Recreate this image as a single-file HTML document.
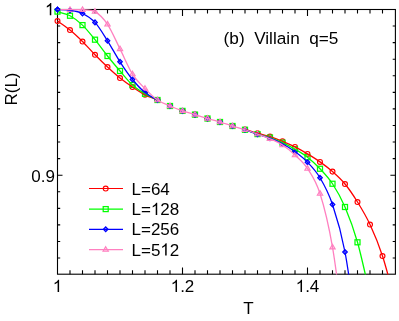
<!DOCTYPE html><html><head><meta charset="utf-8"><style>html,body{margin:0;padding:0;background:#fff}body{width:399px;height:321px;overflow:hidden;font-family:"Liberation Sans",sans-serif}</style></head><body>
<svg width="399" height="321" viewBox="0 0 399 321" style="display:block;will-change:transform">
<defs><clipPath id="c"><rect x="0" y="0" width="399" height="274.5"/></clipPath></defs>
<rect width="399" height="321" fill="#fff"/>
<g stroke="#000" stroke-width="1.1" fill="none">
<rect x="57.5" y="9.5" width="337.9" height="264.7"/>
<path d="M70.00 9.50 v3.9 M70.00 274.20 v-3.9 M82.50 9.50 v3.9 M82.50 274.20 v-3.9 M95.00 9.50 v3.9 M95.00 274.20 v-3.9 M107.50 9.50 v3.9 M107.50 274.20 v-3.9 M120.00 9.50 v3.9 M120.00 274.20 v-3.9 M132.50 9.50 v3.9 M132.50 274.20 v-3.9 M145.00 9.50 v3.9 M145.00 274.20 v-3.9 M157.50 9.50 v3.9 M157.50 274.20 v-3.9 M170.00 9.50 v3.9 M170.00 274.20 v-3.9 M182.50 9.50 v6.6 M182.50 274.20 v-6.6 M195.00 9.50 v3.9 M195.00 274.20 v-3.9 M207.50 9.50 v3.9 M207.50 274.20 v-3.9 M220.00 9.50 v3.9 M220.00 274.20 v-3.9 M232.50 9.50 v3.9 M232.50 274.20 v-3.9 M245.00 9.50 v3.9 M245.00 274.20 v-3.9 M257.50 9.50 v3.9 M257.50 274.20 v-3.9 M270.00 9.50 v3.9 M270.00 274.20 v-3.9 M282.50 9.50 v3.9 M282.50 274.20 v-3.9 M295.00 9.50 v3.9 M295.00 274.20 v-3.9 M307.50 9.50 v6.6 M307.50 274.20 v-6.6 M320.00 9.50 v3.9 M320.00 274.20 v-3.9 M332.50 9.50 v3.9 M332.50 274.20 v-3.9 M345.00 9.50 v3.9 M345.00 274.20 v-3.9 M357.50 9.50 v3.9 M357.50 274.20 v-3.9 M370.00 9.50 v3.9 M370.00 274.20 v-3.9 M382.50 9.50 v3.9 M382.50 274.20 v-3.9 M57.50 26.07 h2.7 M395.40 26.07 h-2.7 M57.50 42.64 h2.7 M395.40 42.64 h-2.7 M57.50 59.21 h2.7 M395.40 59.21 h-2.7 M57.50 75.78 h2.7 M395.40 75.78 h-2.7 M57.50 92.35 h2.7 M395.40 92.35 h-2.7 M57.50 108.92 h2.7 M395.40 108.92 h-2.7 M57.50 125.49 h2.7 M395.40 125.49 h-2.7 M57.50 142.06 h2.7 M395.40 142.06 h-2.7 M57.50 158.63 h2.7 M395.40 158.63 h-2.7 M57.50 175.20 h5 M395.40 175.20 h-5 M57.50 191.77 h2.7 M395.40 191.77 h-2.7 M57.50 208.34 h2.7 M395.40 208.34 h-2.7 M57.50 224.91 h2.7 M395.40 224.91 h-2.7 M57.50 241.48 h2.7 M395.40 241.48 h-2.7 M57.50 258.05 h2.7 M395.40 258.05 h-2.7"/>
</g>
<g clip-path="url(#c)">
<circle cx="57.50" cy="21.00" r="2.45" fill="none" stroke="#ff0000" stroke-width="1.15"/>
<circle cx="70.00" cy="30.00" r="2.45" fill="none" stroke="#ff0000" stroke-width="1.15"/>
<circle cx="82.50" cy="41.50" r="2.45" fill="none" stroke="#ff0000" stroke-width="1.15"/>
<circle cx="95.00" cy="54.80" r="2.45" fill="none" stroke="#ff0000" stroke-width="1.15"/>
<circle cx="107.50" cy="67.00" r="2.45" fill="none" stroke="#ff0000" stroke-width="1.15"/>
<circle cx="120.00" cy="78.00" r="2.45" fill="none" stroke="#ff0000" stroke-width="1.15"/>
<circle cx="132.50" cy="87.00" r="2.45" fill="none" stroke="#ff0000" stroke-width="1.15"/>
<circle cx="145.00" cy="94.80" r="2.45" fill="none" stroke="#ff0000" stroke-width="1.15"/>
<circle cx="157.50" cy="100.00" r="2.45" fill="none" stroke="#ff0000" stroke-width="1.15"/>
<circle cx="170.00" cy="106.00" r="2.45" fill="none" stroke="#ff0000" stroke-width="1.15"/>
<circle cx="182.50" cy="110.90" r="2.45" fill="none" stroke="#ff0000" stroke-width="1.15"/>
<circle cx="195.00" cy="114.60" r="2.45" fill="none" stroke="#ff0000" stroke-width="1.15"/>
<circle cx="207.50" cy="118.50" r="2.45" fill="none" stroke="#ff0000" stroke-width="1.15"/>
<circle cx="220.00" cy="122.00" r="2.45" fill="none" stroke="#ff0000" stroke-width="1.15"/>
<circle cx="232.50" cy="126.00" r="2.45" fill="none" stroke="#ff0000" stroke-width="1.15"/>
<circle cx="245.00" cy="129.40" r="2.45" fill="none" stroke="#ff0000" stroke-width="1.15"/>
<circle cx="257.50" cy="133.20" r="2.45" fill="none" stroke="#ff0000" stroke-width="1.15"/>
<circle cx="270.00" cy="136.60" r="2.45" fill="none" stroke="#ff0000" stroke-width="1.15"/>
<circle cx="282.50" cy="141.30" r="2.45" fill="none" stroke="#ff0000" stroke-width="1.15"/>
<circle cx="295.00" cy="146.90" r="2.45" fill="none" stroke="#ff0000" stroke-width="1.15"/>
<circle cx="307.50" cy="153.90" r="2.45" fill="none" stroke="#ff0000" stroke-width="1.15"/>
<circle cx="320.00" cy="161.90" r="2.45" fill="none" stroke="#ff0000" stroke-width="1.15"/>
<circle cx="332.50" cy="171.60" r="2.45" fill="none" stroke="#ff0000" stroke-width="1.15"/>
<circle cx="345.00" cy="184.00" r="2.45" fill="none" stroke="#ff0000" stroke-width="1.15"/>
<circle cx="357.50" cy="202.00" r="2.45" fill="none" stroke="#ff0000" stroke-width="1.15"/>
<circle cx="370.00" cy="224.50" r="2.45" fill="none" stroke="#ff0000" stroke-width="1.15"/>
<circle cx="382.50" cy="256.00" r="2.45" fill="none" stroke="#ff0000" stroke-width="1.15"/>
<circle cx="395.00" cy="301.00" r="2.45" fill="none" stroke="#ff0000" stroke-width="1.15"/>
<rect x="55.00" y="9.10" width="5.00" height="5.00" fill="none" stroke="#00ff00" stroke-width="1.25"/>
<rect x="67.50" y="13.25" width="5.00" height="5.00" fill="none" stroke="#00ff00" stroke-width="1.25"/>
<rect x="80.00" y="22.60" width="5.00" height="5.00" fill="none" stroke="#00ff00" stroke-width="1.25"/>
<rect x="92.50" y="37.20" width="5.00" height="5.00" fill="none" stroke="#00ff00" stroke-width="1.25"/>
<rect x="105.00" y="53.50" width="5.00" height="5.00" fill="none" stroke="#00ff00" stroke-width="1.25"/>
<rect x="117.50" y="68.50" width="5.00" height="5.00" fill="none" stroke="#00ff00" stroke-width="1.25"/>
<rect x="130.00" y="82.50" width="5.00" height="5.00" fill="none" stroke="#00ff00" stroke-width="1.25"/>
<rect x="142.50" y="91.30" width="5.00" height="5.00" fill="none" stroke="#00ff00" stroke-width="1.25"/>
<rect x="155.00" y="97.50" width="5.00" height="5.00" fill="none" stroke="#00ff00" stroke-width="1.25"/>
<rect x="167.50" y="103.50" width="5.00" height="5.00" fill="none" stroke="#00ff00" stroke-width="1.25"/>
<rect x="180.00" y="108.40" width="5.00" height="5.00" fill="none" stroke="#00ff00" stroke-width="1.25"/>
<rect x="192.50" y="112.10" width="5.00" height="5.00" fill="none" stroke="#00ff00" stroke-width="1.25"/>
<rect x="205.00" y="116.00" width="5.00" height="5.00" fill="none" stroke="#00ff00" stroke-width="1.25"/>
<rect x="217.50" y="119.50" width="5.00" height="5.00" fill="none" stroke="#00ff00" stroke-width="1.25"/>
<rect x="230.00" y="123.50" width="5.00" height="5.00" fill="none" stroke="#00ff00" stroke-width="1.25"/>
<rect x="242.50" y="127.25" width="5.00" height="5.00" fill="none" stroke="#00ff00" stroke-width="1.25"/>
<rect x="255.00" y="131.60" width="5.00" height="5.00" fill="none" stroke="#00ff00" stroke-width="1.25"/>
<rect x="267.50" y="135.10" width="5.00" height="5.00" fill="none" stroke="#00ff00" stroke-width="1.25"/>
<rect x="280.00" y="140.20" width="5.00" height="5.00" fill="none" stroke="#00ff00" stroke-width="1.25"/>
<rect x="292.50" y="146.70" width="5.00" height="5.00" fill="none" stroke="#00ff00" stroke-width="1.25"/>
<rect x="305.00" y="154.70" width="5.00" height="5.00" fill="none" stroke="#00ff00" stroke-width="1.25"/>
<rect x="317.50" y="166.25" width="5.00" height="5.00" fill="none" stroke="#00ff00" stroke-width="1.25"/>
<rect x="330.00" y="181.25" width="5.00" height="5.00" fill="none" stroke="#00ff00" stroke-width="1.25"/>
<rect x="342.50" y="204.50" width="5.00" height="5.00" fill="none" stroke="#00ff00" stroke-width="1.25"/>
<rect x="355.00" y="239.80" width="5.00" height="5.00" fill="none" stroke="#00ff00" stroke-width="1.25"/>
<rect x="367.50" y="292.50" width="5.00" height="5.00" fill="none" stroke="#00ff00" stroke-width="1.25"/>
<path d="M57.50 7.15 L59.75 9.50 L57.50 11.85 L55.25 9.50Z" fill="#0000ff" fill-opacity="0.25" stroke="#0000ff" stroke-width="1.3"/>
<path d="M70.00 7.95 L72.25 10.30 L70.00 12.65 L67.75 10.30Z" fill="#0000ff" fill-opacity="0.25" stroke="#0000ff" stroke-width="1.3"/>
<path d="M82.50 11.15 L84.75 13.50 L82.50 15.85 L80.25 13.50Z" fill="#0000ff" fill-opacity="0.25" stroke="#0000ff" stroke-width="1.3"/>
<path d="M95.00 20.05 L97.25 22.40 L95.00 24.75 L92.75 22.40Z" fill="#0000ff" fill-opacity="0.25" stroke="#0000ff" stroke-width="1.3"/>
<path d="M107.50 38.45 L109.75 40.80 L107.50 43.15 L105.25 40.80Z" fill="#0000ff" fill-opacity="0.25" stroke="#0000ff" stroke-width="1.3"/>
<path d="M120.00 59.45 L122.25 61.80 L120.00 64.15 L117.75 61.80Z" fill="#0000ff" fill-opacity="0.25" stroke="#0000ff" stroke-width="1.3"/>
<path d="M132.50 77.15 L134.75 79.50 L132.50 81.85 L130.25 79.50Z" fill="#0000ff" fill-opacity="0.25" stroke="#0000ff" stroke-width="1.3"/>
<path d="M145.00 90.25 L147.25 92.60 L145.00 94.95 L142.75 92.60Z" fill="#0000ff" fill-opacity="0.25" stroke="#0000ff" stroke-width="1.3"/>
<path d="M157.50 97.65 L159.75 100.00 L157.50 102.35 L155.25 100.00Z" fill="#0000ff" fill-opacity="0.25" stroke="#0000ff" stroke-width="1.3"/>
<path d="M170.00 103.65 L172.25 106.00 L170.00 108.35 L167.75 106.00Z" fill="#0000ff" fill-opacity="0.25" stroke="#0000ff" stroke-width="1.3"/>
<path d="M182.50 108.55 L184.75 110.90 L182.50 113.25 L180.25 110.90Z" fill="#0000ff" fill-opacity="0.25" stroke="#0000ff" stroke-width="1.3"/>
<path d="M195.00 112.25 L197.25 114.60 L195.00 116.95 L192.75 114.60Z" fill="#0000ff" fill-opacity="0.25" stroke="#0000ff" stroke-width="1.3"/>
<path d="M207.50 116.15 L209.75 118.50 L207.50 120.85 L205.25 118.50Z" fill="#0000ff" fill-opacity="0.25" stroke="#0000ff" stroke-width="1.3"/>
<path d="M220.00 119.65 L222.25 122.00 L220.00 124.35 L217.75 122.00Z" fill="#0000ff" fill-opacity="0.25" stroke="#0000ff" stroke-width="1.3"/>
<path d="M232.50 123.65 L234.75 126.00 L232.50 128.35 L230.25 126.00Z" fill="#0000ff" fill-opacity="0.25" stroke="#0000ff" stroke-width="1.3"/>
<path d="M245.00 127.40 L247.25 129.75 L245.00 132.10 L242.75 129.75Z" fill="#0000ff" fill-opacity="0.25" stroke="#0000ff" stroke-width="1.3"/>
<path d="M257.50 131.85 L259.75 134.20 L257.50 136.55 L255.25 134.20Z" fill="#0000ff" fill-opacity="0.25" stroke="#0000ff" stroke-width="1.3"/>
<path d="M270.00 135.85 L272.25 138.20 L270.00 140.55 L267.75 138.20Z" fill="#0000ff" fill-opacity="0.25" stroke="#0000ff" stroke-width="1.3"/>
<path d="M282.50 141.45 L284.75 143.80 L282.50 146.15 L280.25 143.80Z" fill="#0000ff" fill-opacity="0.25" stroke="#0000ff" stroke-width="1.3"/>
<path d="M295.00 149.40 L297.25 151.75 L295.00 154.10 L292.75 151.75Z" fill="#0000ff" fill-opacity="0.25" stroke="#0000ff" stroke-width="1.3"/>
<path d="M307.50 159.85 L309.75 162.20 L307.50 164.55 L305.25 162.20Z" fill="#0000ff" fill-opacity="0.25" stroke="#0000ff" stroke-width="1.3"/>
<path d="M320.00 175.40 L322.25 177.75 L320.00 180.10 L317.75 177.75Z" fill="#0000ff" fill-opacity="0.25" stroke="#0000ff" stroke-width="1.3"/>
<path d="M332.50 202.15 L334.75 204.50 L332.50 206.85 L330.25 204.50Z" fill="#0000ff" fill-opacity="0.25" stroke="#0000ff" stroke-width="1.3"/>
<path d="M345.00 249.65 L347.25 252.00 L345.00 254.35 L342.75 252.00Z" fill="#0000ff" fill-opacity="0.25" stroke="#0000ff" stroke-width="1.3"/>
<path d="M357.50 334.65 L359.75 337.00 L357.50 339.35 L355.25 337.00Z" fill="#0000ff" fill-opacity="0.25" stroke="#0000ff" stroke-width="1.3"/>
<path d="M70.00 6.80 L72.70 11.40 L67.30 11.40Z" fill="#ff80c0" fill-opacity="0.3" stroke="#ff80c0" stroke-width="1.1"/>
<path d="M82.50 6.80 L85.20 11.40 L79.80 11.40Z" fill="#ff80c0" fill-opacity="0.3" stroke="#ff80c0" stroke-width="1.1"/>
<path d="M95.00 8.70 L97.70 13.30 L92.30 13.30Z" fill="#ff80c0" fill-opacity="0.3" stroke="#ff80c0" stroke-width="1.1"/>
<path d="M107.50 21.40 L110.20 26.00 L104.80 26.00Z" fill="#ff80c0" fill-opacity="0.3" stroke="#ff80c0" stroke-width="1.1"/>
<path d="M120.00 46.00 L122.70 50.60 L117.30 50.60Z" fill="#ff80c0" fill-opacity="0.3" stroke="#ff80c0" stroke-width="1.1"/>
<path d="M132.50 71.20 L135.20 75.80 L129.80 75.80Z" fill="#ff80c0" fill-opacity="0.3" stroke="#ff80c0" stroke-width="1.1"/>
<path d="M145.00 85.70 L147.70 90.30 L142.30 90.30Z" fill="#ff80c0" fill-opacity="0.3" stroke="#ff80c0" stroke-width="1.1"/>
<path d="M157.50 97.10 L160.20 101.70 L154.80 101.70Z" fill="#ff80c0" fill-opacity="0.3" stroke="#ff80c0" stroke-width="1.1"/>
<path d="M170.00 103.10 L172.70 107.70 L167.30 107.70Z" fill="#ff80c0" fill-opacity="0.3" stroke="#ff80c0" stroke-width="1.1"/>
<path d="M182.50 108.00 L185.20 112.60 L179.80 112.60Z" fill="#ff80c0" fill-opacity="0.3" stroke="#ff80c0" stroke-width="1.1"/>
<path d="M195.00 111.70 L197.70 116.30 L192.30 116.30Z" fill="#ff80c0" fill-opacity="0.3" stroke="#ff80c0" stroke-width="1.1"/>
<path d="M207.50 115.60 L210.20 120.20 L204.80 120.20Z" fill="#ff80c0" fill-opacity="0.3" stroke="#ff80c0" stroke-width="1.1"/>
<path d="M220.00 119.10 L222.70 123.70 L217.30 123.70Z" fill="#ff80c0" fill-opacity="0.3" stroke="#ff80c0" stroke-width="1.1"/>
<path d="M232.50 123.10 L235.20 127.70 L229.80 127.70Z" fill="#ff80c0" fill-opacity="0.3" stroke="#ff80c0" stroke-width="1.1"/>
<path d="M245.00 126.85 L247.70 131.45 L242.30 131.45Z" fill="#ff80c0" fill-opacity="0.3" stroke="#ff80c0" stroke-width="1.1"/>
<path d="M257.50 131.20 L260.20 135.80 L254.80 135.80Z" fill="#ff80c0" fill-opacity="0.3" stroke="#ff80c0" stroke-width="1.1"/>
<path d="M270.00 135.90 L272.70 140.50 L267.30 140.50Z" fill="#ff80c0" fill-opacity="0.3" stroke="#ff80c0" stroke-width="1.1"/>
<path d="M282.50 142.10 L285.20 146.70 L279.80 146.70Z" fill="#ff80c0" fill-opacity="0.3" stroke="#ff80c0" stroke-width="1.1"/>
<path d="M295.00 152.10 L297.70 156.70 L292.30 156.70Z" fill="#ff80c0" fill-opacity="0.3" stroke="#ff80c0" stroke-width="1.1"/>
<path d="M307.50 165.60 L310.20 170.20 L304.80 170.20Z" fill="#ff80c0" fill-opacity="0.3" stroke="#ff80c0" stroke-width="1.1"/>
<path d="M320.00 190.60 L322.70 195.20 L317.30 195.20Z" fill="#ff80c0" fill-opacity="0.3" stroke="#ff80c0" stroke-width="1.1"/>
<path d="M332.50 244.30 L335.20 248.90 L329.80 248.90Z" fill="#ff80c0" fill-opacity="0.3" stroke="#ff80c0" stroke-width="1.1"/>
<path d="M345.00 336.10 L347.70 340.70 L342.30 340.70Z" fill="#ff80c0" fill-opacity="0.3" stroke="#ff80c0" stroke-width="1.1"/>
<path d="M57.50 21.00 C59.58 22.50 65.83 26.58 70.00 30.00 C74.17 33.42 78.33 37.37 82.50 41.50 C86.67 45.63 90.83 50.55 95.00 54.80 C99.17 59.05 103.33 63.13 107.50 67.00 C111.67 70.87 115.83 74.67 120.00 78.00 C124.17 81.33 128.33 84.20 132.50 87.00 C136.67 89.80 140.83 92.63 145.00 94.80 C149.17 96.97 153.33 98.13 157.50 100.00 M245.00 129.40 C249.17 130.60 253.33 132.00 257.50 133.20 C261.67 134.40 265.83 135.25 270.00 136.60 C274.17 137.95 278.33 139.58 282.50 141.30 C286.67 143.02 290.83 144.80 295.00 146.90 C299.17 149.00 303.33 151.40 307.50 153.90 C311.67 156.40 315.83 158.95 320.00 161.90 C324.17 164.85 328.33 167.92 332.50 171.60 C336.67 175.28 340.83 178.93 345.00 184.00 C349.17 189.07 353.33 195.25 357.50 202.00 C361.67 208.75 365.83 215.50 370.00 224.50 C374.17 233.50 378.33 243.25 382.50 256.00 C386.67 268.75 392.92 293.50 395.00 301.00" fill="none" stroke="#ff0000" stroke-width="1.3"/>
<path d="M57.50 11.60 C59.58 12.29 65.83 13.50 70.00 15.75 C74.17 18.00 78.33 21.11 82.50 25.10 C86.67 29.09 90.83 34.55 95.00 39.70 C99.17 44.85 103.33 50.78 107.50 56.00 C111.67 61.22 115.83 66.17 120.00 71.00 C124.17 75.83 128.33 81.20 132.50 85.00 C136.67 88.80 140.83 91.30 145.00 93.80 C149.17 96.30 153.33 97.97 157.50 100.00 M245.00 129.75 C249.17 131.10 253.33 132.79 257.50 134.10 C261.67 135.41 265.83 136.17 270.00 137.60 C274.17 139.03 278.33 140.77 282.50 142.70 C286.67 144.63 290.83 146.78 295.00 149.20 C299.17 151.62 303.33 153.94 307.50 157.20 C311.67 160.46 315.83 164.32 320.00 168.75 C324.17 173.18 328.33 177.38 332.50 183.75 C336.67 190.12 340.83 197.24 345.00 207.00 C349.17 216.76 353.33 227.63 357.50 242.30 C361.67 256.97 367.92 286.22 370.00 295.00" fill="none" stroke="#00ff00" stroke-width="1.3"/>
<path d="M57.50 9.50 C59.58 9.63 65.83 9.63 70.00 10.30 C74.17 10.97 78.33 11.48 82.50 13.50 C86.67 15.52 90.83 17.85 95.00 22.40 C99.17 26.95 103.33 34.23 107.50 40.80 C111.67 47.37 115.83 55.35 120.00 61.80 C124.17 68.25 128.33 74.37 132.50 79.50 C136.67 84.63 140.83 89.18 145.00 92.60 C149.17 96.02 153.33 97.77 157.50 100.00 M245.00 129.75 C249.17 131.12 253.33 132.79 257.50 134.20 C261.67 135.61 265.83 136.60 270.00 138.20 C274.17 139.80 278.33 141.54 282.50 143.80 C286.67 146.06 290.83 148.68 295.00 151.75 C299.17 154.82 303.33 157.87 307.50 162.20 C311.67 166.53 315.83 170.70 320.00 177.75 C324.17 184.80 328.33 192.12 332.50 204.50 C336.67 216.88 340.83 229.92 345.00 252.00 C349.17 274.08 355.42 322.83 357.50 337.00" fill="none" stroke="#0000ff" stroke-width="1.3"/>
<path d="M57.50 9.60 C59.58 9.62 65.83 9.68 70.00 9.70 C74.17 9.72 78.33 9.38 82.50 9.70 C86.67 10.02 90.83 9.17 95.00 11.60 C99.17 14.03 103.33 18.08 107.50 24.30 C111.67 30.52 115.83 40.60 120.00 48.90 C124.17 57.20 128.33 67.48 132.50 74.10 C136.67 80.72 140.83 84.28 145.00 88.60 C149.17 92.92 153.33 97.10 157.50 100.00 C161.67 102.90 165.83 104.18 170.00 106.00 C174.17 107.82 178.33 109.47 182.50 110.90 C186.67 112.33 190.83 113.33 195.00 114.60 C199.17 115.87 203.33 117.27 207.50 118.50 C211.67 119.73 215.83 120.75 220.00 122.00 C224.17 123.25 228.33 124.71 232.50 126.00 C236.67 127.29 240.83 128.40 245.00 129.75 C249.17 131.10 253.33 132.59 257.50 134.10 C261.67 135.61 265.83 136.98 270.00 138.80 C274.17 140.62 278.33 142.30 282.50 145.00 C286.67 147.70 290.83 151.08 295.00 155.00 C299.17 158.92 303.33 162.08 307.50 168.50 C311.67 174.92 315.83 180.38 320.00 193.50 C324.17 206.62 328.33 222.95 332.50 247.20 C336.67 271.45 342.92 323.70 345.00 339.00" fill="none" stroke="#ff80c0" stroke-width="1.3"/>
<path d="M57.50 7.15 L59.75 9.50 L57.50 11.85 L55.25 9.50Z" fill="#0000ff" fill-opacity="0.25" stroke="#0000ff" stroke-width="1.3"/>
</g>
<g font-family="Liberation Sans, sans-serif" font-size="17px" fill="#000">
<path d="M763 0H583V1147Q518 1085 412.5 1023T223 930V1104Q376 1176 490.5 1278.5T653 1477H763V0Z" transform="translate(44.95,15.20) scale(0.00830,-0.00830)" fill="#000" stroke="none"/>
<text x="55" y="181.5" text-anchor="end">0.9</text>
<path d="M763 0H583V1147Q518 1085 412.5 1023T223 930V1104Q376 1176 490.5 1278.5T653 1477H763V0Z" transform="translate(52.77,292.00) scale(0.00830,-0.00830)" fill="#000" stroke="none"/>
<path d="M763 0H583V1147Q518 1085 412.5 1023T223 930V1104Q376 1176 490.5 1278.5T653 1477H763V0Z" transform="translate(170.69,292.00) scale(0.00830,-0.00830)" fill="#000" stroke="none"/>
<text x="180.14" y="292">.2</text>
<path d="M763 0H583V1147Q518 1085 412.5 1023T223 930V1104Q376 1176 490.5 1278.5T653 1477H763V0Z" transform="translate(295.69,292.00) scale(0.00830,-0.00830)" fill="#000" stroke="none"/>
<text x="305.14" y="292">.4</text>
<text x="248.5" y="313.7" text-anchor="middle">T</text>
<text transform="translate(16.5,89) rotate(-90)" text-anchor="middle">R(L)</text>
<text x="223.6" y="43.8" font-size="17.2px" xml:space="preserve" style="white-space:pre">(b)  Villain  q=5</text>
<path d="M89 188.50 H123" stroke="#ff0000" stroke-width="1.2"/>
<circle cx="105.70" cy="188.50" r="2.45" fill="none" stroke="#ff0000" stroke-width="1.15"/>
<text x="131.50" y="194.50">L=64</text>
<path d="M89 209.10 H123" stroke="#00ff00" stroke-width="1.2"/>
<rect x="103.20" y="206.60" width="5.00" height="5.00" fill="none" stroke="#00ff00" stroke-width="1.25"/>
<text x="131.50" y="215.10">L=</text>
<path d="M763 0H583V1147Q518 1085 412.5 1023T223 930V1104Q376 1176 490.5 1278.5T653 1477H763V0Z" transform="translate(150.88,215.10) scale(0.00830,-0.00830)" fill="#000" stroke="none"/>
<text x="160.33" y="215.10">28</text>
<path d="M89 229.30 H123" stroke="#0000ff" stroke-width="1.2"/>
<path d="M105.70 226.95 L107.95 229.30 L105.70 231.65 L103.45 229.30Z" fill="#0000ff" fill-opacity="0.25" stroke="#0000ff" stroke-width="1.3"/>
<text x="131.50" y="235.30">L=256</text>
<path d="M89 249.60 H123" stroke="#ff80c0" stroke-width="1.2"/>
<path d="M105.70 246.70 L108.40 251.30 L103.00 251.30Z" fill="#ff80c0" fill-opacity="0.3" stroke="#ff80c0" stroke-width="1.1"/>
<text x="131.50" y="255.60">L=5</text>
<path d="M763 0H583V1147Q518 1085 412.5 1023T223 930V1104Q376 1176 490.5 1278.5T653 1477H763V0Z" transform="translate(160.33,255.60) scale(0.00830,-0.00830)" fill="#000" stroke="none"/>
<text x="169.78" y="255.60">2</text>
</g>
</svg>
</body></html>
